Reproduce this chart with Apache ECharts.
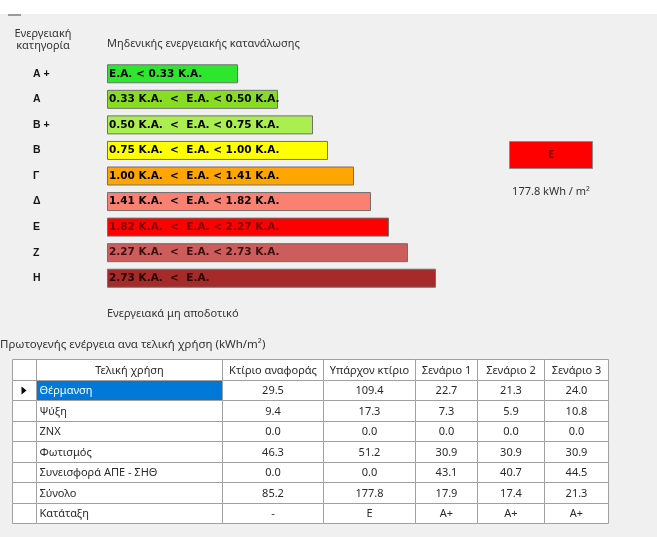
<!DOCTYPE html>
<html><head><meta charset="utf-8">
<script src="https://cdn.jsdelivr.net/npm/echarts@6/dist/echarts.min.js"></script>
<style>html,body{margin:0;padding:0;background:#fff}#c{width:657px;height:537px}</style>
</head><body><div id="c"></div>
<script>
// ---- data ----
const classes = ['Α +', 'Α', 'Β +', 'Β', 'Γ', 'Δ', 'Ε', 'Ζ', 'Η'];
const thresholds = [0.33, 0.50, 0.75, 1.00, 1.41, 1.82, 2.27, 2.73];
const barLengths = [131, 171, 206, 221, 247, 264, 282, 301, 329];
const currentClass = 'Ε';
const currentValue = 177.8;

const tableColumns = ['Τελική χρήση', 'Κτίριο αναφοράς', 'Υπάρχον κτίριο', 'Σενάριο 1', 'Σενάριο 2', 'Σενάριο 3'];
const finalUses = ['Θέρμανση', 'Ψύξη', 'ΖΝΧ', 'Φωτισμός', 'Συνεισφορά ΑΠΕ - ΣΗΘ', 'Σύνολο', 'Κατάταξη'];
const referenceBuilding = [29.5, 9.4, 0.0, 46.3, 0.0, 85.2];
const existingBuilding = [109.4, 17.3, 0.0, 51.2, 0.0, 177.8];
const scenario1 = [22.7, 7.3, 0.0, 30.9, 43.1, 17.9];
const scenario2 = [21.3, 5.9, 0.0, 30.9, 40.7, 17.4];
const scenario3 = [24.0, 10.8, 0.0, 30.9, 44.5, 21.3];
const ratings = ['-', 'Ε', 'Α+', 'Α+', 'Α+'];

// ---- styles / layout ----
const classColors = ['#2ee62e', '#88dc22', '#aaee50', '#ffff00', '#ffa500', '#fa8072', '#ff0000', '#cd5c5c', '#a52a2a'];
const labelColors = ['#000', '#000', '#000', '#000', '#000', '#000', '#7a0000', '#3b1010', '#2a0000'];
const colEdges = [0, 24, 210, 311, 403, 465, 532, 596];
const FONT = "'Noto Sans', 'DejaVu Sans', sans-serif";

// bar labels built from thresholds
const barLabels = classes.map((c, i) => {
  if (i === 0) return 'Ε.Α. < ' + thresholds[0].toFixed(2) + ' Κ.Α.';
  if (i === classes.length - 1) return thresholds[i - 1].toFixed(2) + ' Κ.Α.  <  Ε.Α.';
  return thresholds[i - 1].toFixed(2) + ' Κ.Α.  <  Ε.Α. < ' + thresholds[i].toFixed(2) + ' Κ.Α.';
});

// table cells
const valueCols = [referenceBuilding, existingBuilding, scenario1, scenario2, scenario3];
const cells = [];
cells.push({ col: 0, row: 0, text: '' });
tableColumns.forEach((t, j) => cells.push({ col: j + 1, row: 0, text: t }));
finalUses.forEach((u, i) => {
  const r = i + 1;
  cells.push({ col: 0, row: r, text: '', pointer: i === 0 });
  cells.push({ col: 1, row: r, text: u, left: true, selected: i === 0 });
  valueCols.forEach((arr, j) => {
    const txt = i < arr.length ? arr[i].toFixed(1) : ratings[j];
    cells.push({ col: j + 2, row: r, text: txt });
  });
});

function renderCell(params, api) {
  const cell = cells[params.dataIndex];
  const a = api.coord([colEdges[cell.col], cell.row]);
  const b = api.coord([colEdges[cell.col + 1], cell.row]);
  const bh = api.size([0, 1])[1];
  const x = Math.round(a[0]) + 0.5;
  const w = Math.round(b[0]) - Math.round(a[0]);
  const y0 = Math.round(a[1] - bh / 2) + 0.5;
  const y1 = Math.round(a[1] + bh / 2) + 0.5;
  const h = y1 - y0;
  const children = [{
    type: 'rect',
    shape: { x: x, y: y0, width: w, height: h },
    style: { fill: cell.selected ? '#0078d7' : '#ffffff', stroke: '#a0a0a0', lineWidth: 1 }
  }];
  if (cell.text) {
    children.push({
      type: 'text',
      style: {
        x: cell.left ? x + 3 : x + w / 2,
        y: y0 + h / 2 + 0.5,
        text: cell.text,
        align: cell.left ? 'left' : 'center',
        verticalAlign: 'middle',
        fill: cell.selected ? '#ffffff' : '#2a2a2a',
        font: '11px ' + FONT
      }
    });
  }
  if (cell.pointer) {
    const cx = x + w / 2, cy = y0 + h / 2;
    children.push({
      type: 'polygon',
      shape: { points: [[cx - 3, cy - 4], [cx + 2, cy], [cx - 3, cy + 4]] },
      style: { fill: '#000' }
    });
  }
  return { type: 'group', children: children };
}

const chart = echarts.init(document.getElementById('c'));
const ci = classes.indexOf(currentClass);
chart.setOption({
  animation: false,
  backgroundColor: '#f0f0f0',
  textStyle: { fontFamily: FONT },
  grid: [
    { left: 107, top: 61, width: 400, height: 230 },
    { left: 509, top: 141, width: 84, height: 28 },
    { left: 12, top: 359, width: 596, height: 164 }
  ],
  xAxis: [
    { gridIndex: 0, type: 'value', min: 0, max: 400, show: false },
    { gridIndex: 1, type: 'value', min: 0, max: 1, show: false },
    { gridIndex: 2, type: 'value', min: 0, max: 596, show: false }
  ],
  yAxis: [
    {
      gridIndex: 0, type: 'category', inverse: true, data: classes,
      axisLine: { show: false }, axisTick: { show: false }, splitLine: { show: false },
      axisLabel: { margin: 74, align: 'left', fontWeight: 'bold', fontSize: 10.5, color: '#151515', fontFamily: "'Liberation Sans', Arial, sans-serif" }
    },
    { gridIndex: 1, type: 'category', data: [currentClass], show: false },
    { gridIndex: 2, type: 'category', inverse: true, data: [''].concat(finalUses), show: false }
  ],
  graphic: [
    { type: 'rect', shape: { x: 0, y: 0, width: 657, height: 14 }, style: { fill: '#ffffff' }, silent: true },
    { type: 'rect', shape: { x: 8, y: 14, width: 13, height: 2 }, style: { fill: '#9a9a9a' }, silent: true },
    { type: 'text', x: 43, y: 34, style: { text: 'Ενεργειακή', align: 'center', verticalAlign: 'middle', fill: '#333', font: '11px ' + FONT } },
    { type: 'text', x: 43, y: 46, style: { text: 'κατηγορία', align: 'center', verticalAlign: 'middle', fill: '#333', font: '11px ' + FONT } },
    { type: 'text', x: 107, y: 44, style: { text: 'Μηδενικής ενεργειακής κατανάλωσης', align: 'left', verticalAlign: 'middle', fill: '#333', font: '11px ' + FONT } },
    { type: 'text', x: 107, y: 314, style: { text: 'Ενεργειακά μη αποδοτικό', align: 'left', verticalAlign: 'middle', fill: '#333', font: '11px ' + FONT } },
    { type: 'text', x: 551, y: 192, style: { text: currentValue.toFixed(1) + ' kWh / m²', align: 'center', verticalAlign: 'middle', fill: '#333', font: '11px ' + FONT } },
    { type: 'text', x: 0, y: 345, style: { text: 'Πρωτογενής ενέργεια ανα τελική χρήση (kWh/m²)', align: 'left', verticalAlign: 'middle', fill: '#333', font: '11.5px ' + FONT } }
  ],
  series: [
    {
      type: 'bar', xAxisIndex: 0, yAxisIndex: 0, barWidth: 19,
      data: barLengths.map((v, i) => ({
        value: v,
        itemStyle: { color: classColors[i], borderColor: '#707070', borderWidth: 1 },
        label: { color: labelColors[i] }
      })),
      label: {
        show: true, position: 'insideLeft', distance: 2,
        formatter: p => barLabels[p.dataIndex],
        fontFamily: "'DejaVu Sans', sans-serif", fontWeight: 'bold', fontSize: 10.5
      }
    },
    {
      type: 'bar', xAxisIndex: 1, yAxisIndex: 1, barWidth: 28,
      data: [1],
      itemStyle: { color: classColors[ci], borderColor: '#8a8a8a', borderWidth: 1 },
      label: { show: true, position: 'inside', formatter: currentClass, color: '#5a0000', fontSize: 11, fontWeight: 'bold', fontFamily: FONT }
    },
    {
      type: 'custom', xAxisIndex: 2, yAxisIndex: 2,
      renderItem: renderCell,
      data: cells.map(c => [(colEdges[c.col] + colEdges[c.col + 1]) / 2, c.row]),
      encode: { x: 0, y: 1 }
    }
  ]
});
</script></body></html>
